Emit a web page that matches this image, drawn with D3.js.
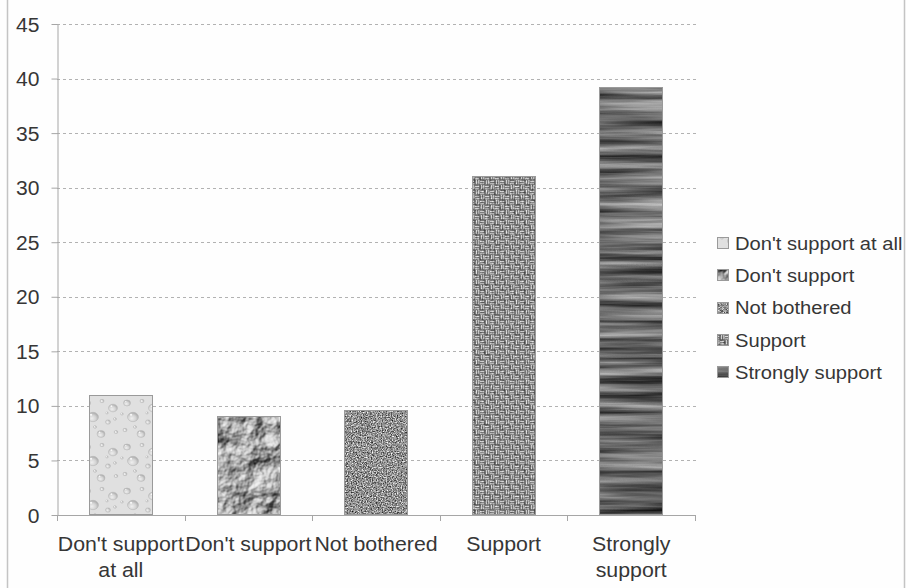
<!DOCTYPE html>
<html>
<head>
<meta charset="utf-8">
<script src="https://cdn.jsdelivr.net/npm/d3@7"></script>
<style>
  html, body { margin: 0; padding: 0; background: #fefefe; }
  svg { display: block; }
  text { font-family: "Liberation Sans", Arial, sans-serif; fill: #363636; }
</style>
</head>
<body>
<svg id="chart" width="906" height="588"></svg>
<script>
// Survey answers and their percentages
const categories = ["Don't support at all", "Don't support", "Not bothered", "Support", "Strongly support"];
const values = [11.0, 9.1, 9.6, 31.1, 39.2];
// Category labels as wrapped on the x axis
const axisLabels = [["Don't support", "at all"], ["Don't support"], ["Not bothered"], ["Support"], ["Strongly", "support"]];
const yTicks = [0, 5, 10, 15, 20, 25, 30, 35, 40, 45];
// Texture used for each category
const textures = ["drops", "crumple", "grain", "weave", "wood"];

const W = 906, H = 588;
// lettering: size and horizontal stretch per text group
const yFont = { size: 19.5, sx: 1.08 };
const xFont = { size: 20.5, sx: 1.04 };
const legFont = { size: 18.5, sx: 1.09 };

const svg = d3.select("#chart");
const defs = svg.append("defs");

// ---- textures ----
// water drops
const drops = defs.append("pattern").attr("id", "pat-drops")
  .attr("patternUnits", "userSpaceOnUse").attr("width", 40).attr("height", 44);
drops.append("rect").attr("width", 40).attr("height", 44).attr("fill", "#e0e0e0");
const dg = defs.append("radialGradient").attr("id", "drop-grad")
  .attr("cx", "40%").attr("cy", "65%").attr("r", "60%");
dg.append("stop").attr("offset", "0%").attr("stop-color", "#efefef");
dg.append("stop").attr("offset", "60%").attr("stop-color", "#d4d4d4");
dg.append("stop").attr("offset", "100%").attr("stop-color", "#b0b0b0");
const dropSpots = [[7, 7, 3.5], [22, 5, 2], [33, 12, 4.5], [13, 21, 5.5], [28, 26, 2.5], [5, 34, 2], [21, 38, 4], [36, 36, 1.8], [15, 31, 1.5], [35, 23, 1.4], [2, 18, 1.3], [27, 17, 1.2]];
drops.selectAll("ellipse").data(dropSpots).join("ellipse")
  .attr("cx", d => d[0]).attr("cy", d => d[1])
  .attr("rx", d => d[2]).attr("ry", d => d[2] * 0.85)
  .attr("fill", "url(#drop-grad)").attr("stroke", "#b8b8b8").attr("stroke-width", 0.6);
drops.selectAll("circle").data(dropSpots).join("circle")
  .attr("cx", d => d[0] - d[2] * 0.35).attr("cy", d => d[1] - d[2] * 0.4)
  .attr("r", d => Math.max(0.5, d[2] * 0.2)).attr("fill", "#f8f8f8");

// basket weave: alternating quadrants of horizontal and vertical strands
const weave = defs.append("pattern").attr("id", "pat-weave")
  .attr("patternUnits", "userSpaceOnUse").attr("width", 10).attr("height", 10);
weave.append("rect").attr("width", 10).attr("height", 10).attr("fill", "#585858");
const strand = "#e8e8e8";
[[0, 0], [5, 5]].forEach(([ox, oy]) => {
  weave.append("rect").attr("x", ox).attr("y", oy + 0.8).attr("width", 4.2).attr("height", 1.4).attr("fill", strand);
  weave.append("rect").attr("x", ox).attr("y", oy + 3.2).attr("width", 4.2).attr("height", 1.2).attr("fill", strand);
});
[[5, 0], [0, 5]].forEach(([ox, oy]) => {
  weave.append("rect").attr("x", ox + 0.8).attr("y", oy).attr("width", 1.4).attr("height", 4.2).attr("fill", strand);
  weave.append("rect").attr("x", ox + 3.2).attr("y", oy).attr("width", 1.2).attr("height", 4.2).attr("fill", strand);
});

function grayMatrix(k, b) {
  return `${k} 0 0 0 ${b}  ${k} 0 0 0 ${b}  ${k} 0 0 0 ${b}  0 0 0 0 1`;
}
function newFilter(id) {
  return defs.append("filter").attr("id", id)
    .attr("x", 0).attr("y", 0).attr("width", 1).attr("height", 1)
    .attr("color-interpolation-filters", "sRGB");
}
function noiseFilter(id, type, freq, oct, seed, k, b) {
  const f = newFilter(id);
  f.append("feTurbulence").attr("type", type).attr("baseFrequency", freq)
    .attr("numOctaves", oct).attr("seed", seed);
  f.append("feColorMatrix").attr("type", "matrix").attr("values", grayMatrix(k, b));
  f.append("feComposite").attr("in2", "SourceGraphic").attr("operator", "in");
}
noiseFilter("flt-grain", "fractalNoise", 0.8, 2, 4, 1.35, -0.11);
noiseFilter("flt-wood", "fractalNoise", "0.005 0.13", 4, 7, 1.0, -0.09);
noiseFilter("flt-fine", "fractalNoise", 0.5, 2, 9, 2.0, -0.5);

// crumpled paper via lighting on noise
const cr = newFilter("flt-crumple");
cr.append("feTurbulence").attr("type", "fractalNoise").attr("baseFrequency", 0.05)
  .attr("numOctaves", 4).attr("seed", 3).attr("result", "n");
const dl = cr.append("feDiffuseLighting").attr("in", "n").attr("surfaceScale", 5)
  .attr("lighting-color", "#ffffff").attr("result", "l");
dl.append("feDistantLight").attr("azimuth", 225).attr("elevation", 45);
cr.append("feColorMatrix").attr("in", "l").attr("type", "matrix").attr("values", grayMatrix(0.95, 0.0));
cr.append("feComposite").attr("in2", "SourceGraphic").attr("operator", "in");

// paints a textured rectangle into g
function paint(g, tex, x, y, w, h) {
  if (tex === "drops") {
    g.append("rect").attr("x", x).attr("y", y).attr("width", w).attr("height", h).attr("fill", "url(#pat-drops)");
  } else if (tex === "weave") {
    g.append("rect").attr("x", x).attr("y", y).attr("width", w).attr("height", h).attr("fill", "url(#pat-weave)");
    g.append("rect").attr("x", x).attr("y", y).attr("width", w).attr("height", h)
      .attr("fill", "#000").attr("filter", "url(#flt-fine)").attr("opacity", 0.25);
  } else {
    g.append("rect").attr("x", x).attr("y", y).attr("width", w).attr("height", h)
      .attr("fill", "#000").attr("filter", `url(#flt-${tex})`);
  }
  g.append("rect").attr("x", x + 0.5).attr("y", y + 0.5).attr("width", w - 1).attr("height", h - 1)
    .attr("fill", "none").attr("stroke", "#9a9a9a").attr("stroke-width", 1);
}

// ---- frame ----
svg.append("line").attr("x1", 7.5).attr("x2", 7.5).attr("y1", 0).attr("y2", H)
  .attr("stroke", "#c4c4c4").attr("stroke-width", 1.5);
svg.append("line").attr("x1", 904.5).attr("x2", 904.5).attr("y1", 0).attr("y2", H)
  .attr("stroke", "#c4c4c4").attr("stroke-width", 1.5);

// ---- scales ----
const plotL = 57, plotR = 695, plotT = 24, plotB = 515;
const y = d3.scaleLinear().domain([0, 45]).range([plotB, plotT]);
const x = d3.scaleBand().domain(categories).range([plotL, plotR]).paddingInner(0.5).paddingOuter(0.25);

// gridlines
svg.append("g").selectAll("line").data(yTicks.filter(t => t > 0)).join("line")
  .attr("x1", plotL).attr("x2", plotR + 2)
  .attr("y1", d => Math.round(y(d)) + 0.5).attr("y2", d => Math.round(y(d)) + 0.5)
  .attr("stroke", "#b2b2b2").attr("stroke-width", 1).attr("stroke-dasharray", "3,3");

// y axis
const yAxis = svg.append("g").attr("transform", `translate(${plotL + 0.5},0)`)
  .call(d3.axisLeft(y).tickValues(yTicks).tickSize(6).tickSizeOuter(0));
yAxis.select(".domain").attr("stroke", "#a6a6a6");
yAxis.selectAll(".tick line").attr("stroke", "#a6a6a6");
yAxis.selectAll(".tick text")
  .attr("x", 0).attr("dy", "0.36em")
  .attr("transform", `translate(-18,0) scale(${yFont.sx},1)`)
  .style("font-size", yFont.size + "px").style("font-family", "'Liberation Sans', Arial, sans-serif")
  .attr("fill", "#363636");

// bars
const bars = svg.append("g");
categories.forEach((c, i) => {
  const g = bars.append("g");
  const bx = Math.round(x(c)), bw = Math.round(x.bandwidth());
  const top = Math.round(y(values[i]));
  paint(g, textures[i], bx, top, bw, plotB - top);
});

// x axis
const step = x.step();
const bounds = categories.map(c => x(c) - step * 0.25).concat([plotR]);
svg.append("line").attr("x1", plotL).attr("x2", plotR).attr("y1", plotB + 0.5).attr("y2", plotB + 0.5)
  .attr("stroke", "#a6a6a6");
svg.append("g").selectAll("line").data(bounds).join("line")
  .attr("x1", d => Math.round(d) + 0.5).attr("x2", d => Math.round(d) + 0.5)
  .attr("y1", plotB).attr("y2", plotB + 6).attr("stroke", "#a6a6a6");

const xl = svg.append("g");
categories.forEach((c, i) => {
  const cx = x(c) + x.bandwidth() / 2;
  axisLabels[i].forEach((line, j) => {
    xl.append("text")
      .attr("transform", `translate(${cx},${551 + j * 26}) scale(${xFont.sx},1)`)
      .attr("text-anchor", "middle").style("font-size", xFont.size + "px")
      .text(line);
  });
});

// legend
const legend = svg.append("g");
categories.forEach((c, i) => {
  const cy = 243 + i * 32.3;
  const g = legend.append("g");
  paint(g, textures[i], 717, Math.round(cy - 6), 12, 12);
  legend.append("text")
    .attr("transform", `translate(735,${cy}) scale(${legFont.sx},1)`)
    .attr("dy", "0.36em").style("font-size", legFont.size + "px")
    .text(c);
});
</script>
</body>
</html>
